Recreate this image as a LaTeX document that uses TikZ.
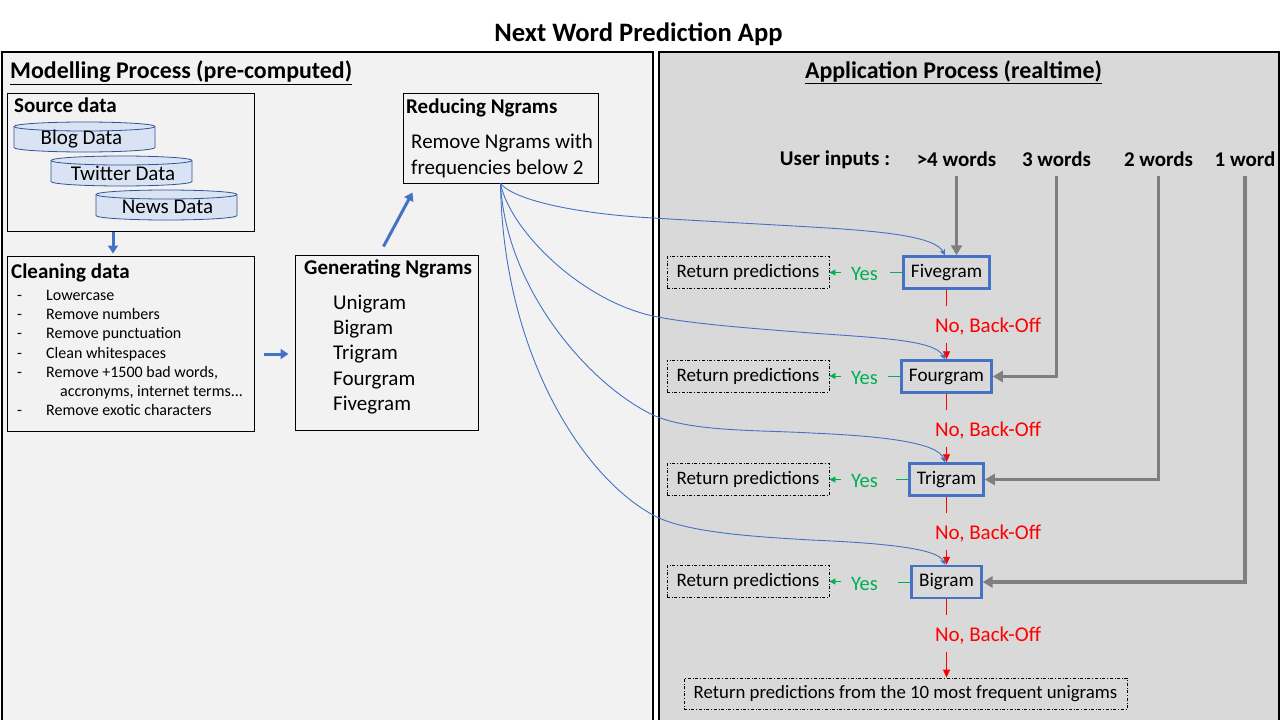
\documentclass[tikz,border=0pt]{standalone}
\usepackage{fontspec}
\setmainfont{Carlito}
\usetikzlibrary{arrows.meta,calc}
\definecolor{panelL}{HTML}{F2F2F2}
\definecolor{panelR}{HTML}{D9D9D9}
\definecolor{bblue}{HTML}{4472C4}
\definecolor{cylfill}{HTML}{DAE3F3}
\definecolor{cylline}{HTML}{2F5597}
\definecolor{ggray}{HTML}{7F7F7F}
\definecolor{ygreen}{HTML}{00B050}
\definecolor{nred}{HTML}{FF0000}
\newcommand{\fsz}[1]{\fontsize{#1}{#1}\selectfont}
\begin{document}
\begin{tikzpicture}[x=1pt,y=-1pt,
  panelline/.style={draw=black,line width=1.3pt},
  box/.style={draw=black,line width=1pt,inner sep=0pt},
  lbl/.style={inner sep=0pt,anchor=west,yshift=-1.5pt},
  btitle/.style={inner sep=0pt,anchor=west,yshift=-1.5pt,font=\fsz{21}\bfseries},
  cyltext/.style={inner sep=0pt,font=\fsz{21}},
  cyl/.style={draw=cylline,fill=cylfill,line width=0.8pt},
  item/.style={inner sep=0pt,anchor=west,yshift=-3pt,text height=0.72em,text depth=0.22em,font=\fsz{16}},
  gitem/.style={inner sep=0pt,anchor=west,yshift=-1.5pt,font=\fsz{21}},
  fat/.style={draw=bblue,line width=3pt,-{Triangle[length=8pt,width=10pt]}},
  curve/.style={draw=bblue,line width=0.9pt,-{Stealth[length=6pt,width=6pt]}},
  gram/.style={draw=bblue,line width=2.5pt,fill=panelR,inner xsep=7.5pt,minimum height=32pt,font=\fsz{19.2}},
  ret/.style={draw=black,dash dot,line width=0.8pt,minimum height=32pt,minimum width=162pt,font=\fsz{19},inner sep=0pt},
  uin/.style={inner sep=0pt,yshift=-1.5pt,font=\fsz{21}\bfseries},
  grayar/.style={draw=ggray,line width=3.5pt,-{Triangle[length=10pt,width=11pt]}},
  redline/.style={draw=nred,line width=0.8pt},
  redar/.style={draw=nred,line width=0.8pt,-{Triangle[length=8pt,width=7pt]}},
  nolbl/.style={inner sep=0pt,text=nred,yshift=-1.5pt,font=\fsz{21}},
  yeslbl/.style={inner sep=0pt,text=ygreen,yshift=-1pt,font=\fsz{20.5}},
  greenline/.style={draw=ygreen,line width=0.8pt},
  greenar/.style={draw=ygreen,line width=0.8pt,-{Triangle[length=6pt,width=6pt]}}
]
\useasboundingbox (0,0) rectangle (1280,720);
\fill[white] (0,0) rectangle (1280,720);
% panels
\fill[panelL] (2,52) rectangle (653,720);
\draw[panelline] (2,721) -- (2,52) -- (653,52) -- (653,721);
\fill[panelR] (659,52) rectangle (1279,720);
\draw[panelline] (659,721) -- (659,52) -- (1279,52) -- (1279,721);

% title and headings
\node[inner sep=0pt,yshift=-1.5pt,font=\fsz{26.6}\bfseries] (title) at (638.5,33) {Next Word Prediction App};
\node[lbl,font=\fsz{23.9}\bfseries] (hleft) at (10,71) {\underline{Modelling Process (pre-computed)}};
\node[inner sep=0pt,yshift=-1.5pt,font=\fsz{23.9}\bfseries] (hright) at (953.5,71) {\underline{Application Process (realtime)}};

% Source data
\node[box,minimum width=247pt,minimum height=138pt] (src) at (130.5,162) {};
\node[btitle] (srct) at (14,104) {Source data};
\foreach \nm/\cx/\cy/\dx/\tx in {blog/84.5/137/-3/Blog Data, twit/121.5/171/1.5/Twitter Data, news/166.5/205/1/News Data}{
  \coordinate (\nm c) at (\cx,\cy);
  \path[cyl] ($(\nm c)+(-70.5,-10.5)$) -- ($(\nm c)+(-70.5,10.5)$)
     arc[start angle=180,end angle=360,x radius=70.5pt,y radius=4.5pt]
     -- ($(\nm c)+(70.5,-10.5)$)
     arc[start angle=0,end angle=180,x radius=70.5pt,y radius=4.5pt] -- cycle;
  \draw[cylline,line width=0.8pt] ($(\nm c)+(-70.5,-10.5)$) arc[start angle=180,end angle=360,x radius=70.5pt,y radius=4.5pt];
  \node[cyltext] (\nm) at ($(\nm c)+(\dx,2)$) {\tx};
}

% Cleaning data
\node[box,minimum width=247pt,minimum height=175pt] (clean) at (130.5,343.5) {};
\node[btitle] (cleant) at (11,271) {Cleaning data};
\foreach \i/\yy/\tx in {1/295/Lowercase, 2/314/Remove numbers, 3/333/Remove punctuation, 4/353/Clean whitespaces, 5/372/{Remove +1500 bad words,}, 7/410/Remove exotic characters}{
  \node[item] (dash\i) at (17,\yy) {-};
  \node[item] (cit\i) at (46,\yy) {\tx};
}
\node[item] (cit6) at (60,391) {accronyms, internet terms...};

% Generating Ngrams
\node[box,minimum width=183pt,minimum height=175pt] (gen) at (386.5,342.5) {};
\node[btitle] (gent) at (304,267) {Generating Ngrams};
\foreach \i/\yy/\tx in {1/303/Unigram, 2/328/Bigram, 3/353/Trigram, 4/379/Fourgram, 5/404/Fivegram}{
  \node[gitem] (g\i) at (333,\yy) {\tx};
}

% Reducing Ngrams
\node[box,minimum width=195pt,minimum height=90pt] (red) at (500.5,138) {};
\node[btitle] (redt) at (406,106) {Reducing Ngrams};
\node[gitem] (red1) at (411,142) {Remove Ngrams with};
\node[gitem] (red2) at (411,167) {frequencies below 2};

% fat blue arrows
\draw[fat] (src.south -| 113,0) -- ($(clean.north -| 113,0)+(0,-2)$);
\draw[fat] ($(clean.east)+(9,10.5)$) -- ($(gen.west)+(-6,11.5)$);
\draw[fat] ($(gen.north)+(-3,-8)$) -- ($(red.south west)+(10,9)$);

% User inputs
\node[uin] (ui) at (835,158) {User inputs :};
\node[uin] (w4) at (956.5,158) {>4 words};
\node[uin] (w3) at (1056.5,158) {3 words};
\node[uin] (w2) at (1158.5,158) {2 words};
\node[uin] (w1) at (1245,158) {1 word};

% Gram boxes
\node[gram] (five) at (946.5,272.5) {Fivegram};
\node[gram] (four) at (946.5,376.5) {Fourgram};
\node[gram] (three) at (946.5,479.5) {Trigram};
\node[gram] (two) at (946.5,582) {Bigram};

% Return predictions boxes
\node[ret] (r5) at (748,272.5) {Return predictions};
\node[ret] (r4) at (748,376) {Return predictions};
\node[ret] (r3) at (748,479.5) {Return predictions};
\node[ret] (r2) at (748,581.5) {Return predictions};
\node[ret,minimum width=443pt,minimum height=31pt,font=\fsz{18.8}] (fin) at (905.5,693.5) {Return predictions from the 10 most frequent unigrams};

% gray arrows
\draw[grayar] ($(w4.south)+(0,9)$) -- (w4.south |- five.north);
\draw[grayar] ($(w3.south)+(0,9)$) |- (four.east);
\draw[grayar] ($(w2.south)+(0,9)$) |- (three.east);
\draw[grayar] ($(w1.south)+(0,9)$) |- (two.east);

% Yes branches
\foreach \g/\r in {five/r5, four/r4, three/r3, two/r2}{
  \draw[greenline] (\g.west) -- ++(-12,0);
  \node[yeslbl] (yes\g) at ($(r5.east |- \g.west)+(35,0.5)$) {Yes};
  \draw[greenar] ($(\r.east)+(12,0)$) -- (\r.east);
}

% No, Back-Off branches
\foreach \a/\b in {five/four, four/three, three/two, two/fin}{
  \draw[redline] (\a.south) -- ++(0,16);
  \node[nolbl] (no\a) at ($(\a.south)+(41.5,35)$) {No, Back-Off};
  \draw[redar] ($(\a.south)+(0,53)$) -- (\a.south |- \b.north);
}

% curves from Reducing Ngrams
\draw[curve] (red.south) .. controls (515,201) and (580,214) .. (653,218)
   .. controls (720,222) and (760,224) .. (811,227)
   .. controls (880,231) and (935,236) .. ($(five.north)+(-1.5,0)$);
\draw[curve] (red.south) .. controls (510,230) and (580,300) .. (653,316)
   .. controls (690,324) and (760,329) .. (811,333)
   .. controls (880,338) and (935,340) .. ($(four.north)+(-1.5,0)$);
\draw[curve] (red.south) .. controls (506,290) and (590,385) .. (653,415)
   .. controls (690,432) and (760,430) .. (811,433)
   .. controls (880,436) and (938,442) .. ($(three.north)+(-1.5,0)$);
\draw[curve] (red.south) .. controls (503,350) and (580,475) .. (653,515)
   .. controls (685,533) and (760,537) .. (811,540)
   .. controls (880,543) and (938,548) .. ($(two.north)+(-1.5,0)$);
\end{tikzpicture}
\end{document}
